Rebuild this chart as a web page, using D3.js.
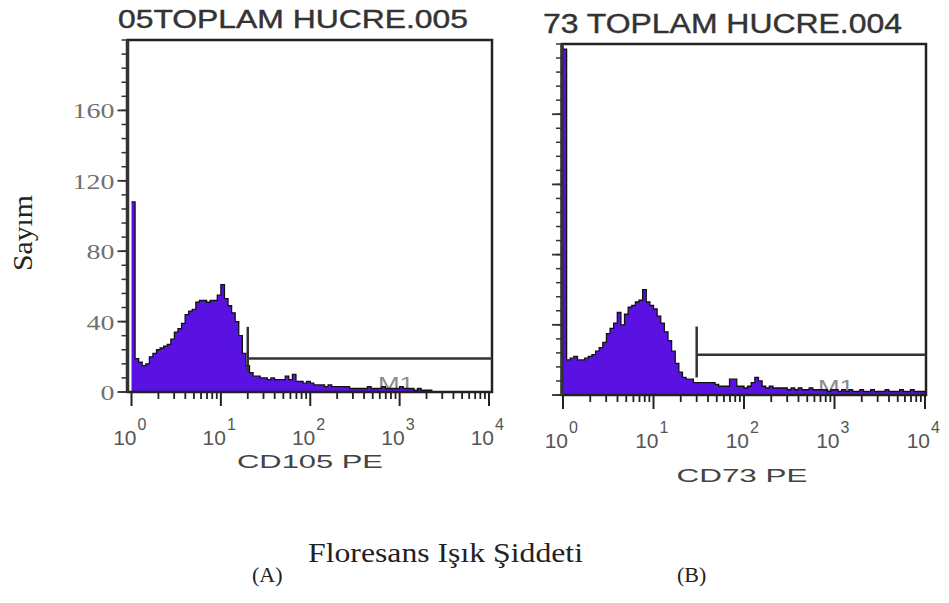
<!DOCTYPE html>
<html>
<head>
<meta charset="utf-8">
<script src="https://cdn.jsdelivr.net/npm/d3@7"></script>
<style>
  body { margin: 0; background: #fff; }
  svg { display: block; }
</style>
</head>
<body>
<svg></svg>
<script>
// ====== data ====== //
// histogram counts, 25 bins per decade, from 10^0 to 10^4
const countsA = [
  108, 19, 17, 15, 16, 20, 22, 24, 25, 26,
  27, 30, 34, 36, 39, 44, 46, 47, 51, 52,
  52, 51, 52, 52, 55, 61, 53, 49, 45, 40,
  32, 22, 15, 11, 9, 9, 8, 8, 7, 8,
  7, 7, 7, 9, 7, 10, 6, 6, 5, 6,
  5, 4, 4, 4, 3, 4, 3, 3, 3, 3,
  3, 2, 2, 2, 2, 2, 3, 2, 2, 2,
  3, 2, 2, 2, 2, 3, 2, 2, 2, 1,
  2, 1, 1, 1, 0, 0, 0, 0, 0, 0,
  0, 0, 0, 0, 0, 0, 0, 0, 0, 0
];
const countsB = [
  197, 20, 21, 22, 20, 20, 21, 22, 23, 25,
  27, 30, 35, 38, 41, 47, 40, 46, 50, 51,
  53, 54, 60, 53, 51, 49, 45, 41, 36, 31,
  25, 18, 13, 10, 9, 9, 7, 7, 7, 7,
  7, 7, 6, 5, 5, 5, 9, 9, 5, 5,
  4, 5, 7, 10, 8, 5, 4, 5, 4, 4,
  4, 4, 3, 4, 3, 4, 3, 3, 4, 3,
  3, 3, 3, 2, 3, 3, 2, 3, 2, 3,
  2, 2, 3, 2, 2, 3, 2, 2, 2, 3,
  2, 2, 2, 3, 2, 2, 3, 2, 2, 2
];
const titles = ["05TOPLAM HUCRE.005", "73 TOPLAM HUCRE.004"];
const axisNames = ["CD105 PE", "CD73 PE"];
const panelLetters = ["(A)", "(B)"];
const yMajorTicks = [0, 40, 80, 120, 160];
const decades = [0, 1, 2, 3, 4];
// M1 marker: start channel, bar level, vertical tick bottom/top (counts)
const gateStart = [20, 30];
const gateLevel = [19, 23];
const gateTick = [[11, 37], [10, 39]];

const binsPerDecade = 25;
const histColor = "#5a12e2";
const sans = "'Liberation Sans', Arial, sans-serif";
const serif = "'Liberation Serif', 'Times New Roman', serif";

const svg = d3.select("svg").attr("width", 949).attr("height", 603);

// layout of the two panels
const panels = [
  { counts: countsA, fl: 127.5, fr: 492, yt: 40, yb: 392, x0: 131.5, x1: 489,
    title: { x: 118, y: 28, len: 350, size: 25 }, name: { cx: 310, y: 468, len: 146 },
    letter: 252, m1: { x: 378, y: 390 }, yLabels: true, gate: 0 },
  { counts: countsB, fl: 562, fr: 926, yt: 44, yb: 395, x0: 563, x1: 925,
    title: { x: 543, y: 33, len: 359, size: 27 }, name: { cx: 742, y: 482, len: 131 },
    letter: 677, m1: { x: 818, y: 393 }, yLabels: false, gate: 1 }
];

panels.forEach((p, k) => {
  const g = svg.append("g");
  const x = d3.scaleLog().domain([1, 1e4]).range([p.x0, p.x1]);
  const y = d3.scaleLinear().domain([0, 200]).range([p.yb, p.yt]);

  // title (wide, stretched glyphs like the scan)
  g.append("text")
    .attr("x", p.title.x).attr("y", p.title.y)
    .attr("textLength", p.title.len).attr("lengthAdjust", "spacingAndGlyphs")
    .style("font-family", sans).style("font-size", p.title.size + "px")
    .attr("fill", "#333")
    .attr("stroke", "#333").attr("stroke-width", 0.4)
    .text(titles[k]);

  // M1 label (sits under the histogram)
  g.append("text")
    .attr("x", p.m1.x).attr("y", p.m1.y)
    .attr("textLength", 36).attr("lengthAdjust", "spacingAndGlyphs")
    .style("font-family", sans).style("font-size", "19px")
    .attr("fill", "#8a8a8a")
    .text("M1");

  // histogram
  const pts = p.counts.map((c, i) => [Math.pow(10, i / binsPerDecade), c]);
  pts.push([1e4, p.counts[p.counts.length - 1]]);
  const area = d3.area()
    .x(d => x(d[0])).y0(y(0)).y1(d => y(d[1]))
    .curve(d3.curveStepAfter);
  const line = d3.line()
    .x(d => x(d[0])).y(d => y(d[1]))
    .curve(d3.curveStepAfter);
  g.append("path").attr("d", area(pts)).attr("fill", histColor);
  g.append("path").attr("d", line(pts))
    .attr("fill", "none").attr("stroke", "#111").attr("stroke-width", 1.3);

  // frame
  g.append("rect")
    .attr("x", p.fl).attr("y", p.yt)
    .attr("width", p.fr - p.fl).attr("height", p.yb - p.yt)
    .attr("fill", "none").attr("stroke", "#222").attr("stroke-width", 2.5);
  g.append("line")
    .attr("x1", p.fl).attr("x2", p.fl).attr("y1", p.yt).attr("y2", p.yb)
    .attr("stroke", "#333").attr("stroke-width", 3.5);

  // M1 marker
  const gx = x(gateStart[p.gate]);
  g.append("line")
    .attr("x1", gx).attr("x2", p.fr)
    .attr("y1", y(gateLevel[p.gate])).attr("y2", y(gateLevel[p.gate]))
    .attr("stroke", "#333").attr("stroke-width", 2.5);
  g.append("line")
    .attr("x1", gx).attr("x2", gx)
    .attr("y1", y(gateTick[p.gate][0])).attr("y2", y(gateTick[p.gate][1]))
    .attr("stroke", "#333").attr("stroke-width", 2.5);

  // y ticks: minor every 8 counts, major every 40
  const yMinor = d3.range(0, 201, 8);
  g.selectAll(".ymin").data(yMinor).enter().append("line")
    .attr("x1", p.fl - 6).attr("x2", p.fl)
    .attr("y1", d => y(d)).attr("y2", d => y(d))
    .attr("stroke", "#333").attr("stroke-width", 1.5);
  g.selectAll(".ymaj").data(yMajorTicks).enter().append("line")
    .attr("x1", p.fl - 10).attr("x2", p.fl)
    .attr("y1", d => y(d)).attr("y2", d => y(d))
    .attr("stroke", "#333").attr("stroke-width", 1.8);
  if (p.yLabels) {
    g.selectAll(".ylab").data(yMajorTicks).enter().append("text")
      .attr("x", d => p.fl - 13 - 14 * String(d).length).attr("y", d => y(d) + 8)
      .attr("textLength", d => 14 * String(d).length)
      .attr("lengthAdjust", "spacingAndGlyphs")
      .style("font-family", serif).style("font-size", "22px")
      .attr("fill", "#707070")
      .text(d => d);
  }

  // x ticks: decades long, 2..9 short
  const xMinor = [];
  decades.slice(0, -1).forEach(d => {
    for (let m = 2; m <= 9; m++) xMinor.push(m * Math.pow(10, d));
  });
  g.selectAll(".xmin").data(xMinor).enter().append("line")
    .attr("x1", d => x(d)).attr("x2", d => x(d))
    .attr("y1", p.yb).attr("y2", p.yb + 7)
    .attr("stroke", "#222").attr("stroke-width", 1.8);
  g.selectAll(".xmaj").data(decades).enter().append("line")
    .attr("x1", d => x(Math.pow(10, d))).attr("x2", d => x(Math.pow(10, d)))
    .attr("y1", p.yb).attr("y2", p.yb + 14)
    .attr("stroke", "#222").attr("stroke-width", 2);

  g.selectAll(".xlab").data(decades).enter().append("text")
    .attr("x", d => x(Math.pow(10, d)) + 5).attr("y", p.yb + 53)
    .attr("text-anchor", "end")
    .style("font-family", sans).style("font-size", "21px")
    .attr("fill", "#555")
    .text("10");
  g.selectAll(".xexp").data(decades).enter().append("text")
    .attr("x", d => x(Math.pow(10, d)) + 6).attr("y", p.yb + 38)
    .style("font-family", sans).style("font-size", "16px")
    .attr("fill", "#555")
    .text(d => d);

  // channel name
  g.append("text")
    .attr("x", p.name.cx - p.name.len / 2).attr("y", p.name.y)
    .attr("textLength", p.name.len).attr("lengthAdjust", "spacingAndGlyphs")
    .style("font-family", sans).style("font-size", "19px")
    .attr("fill", "#444")
    .text(axisNames[k]);

  // (A) / (B)
  svg.append("text")
    .attr("x", p.letter).attr("y", 582)
    .style("font-family", serif).style("font-size", "22px")
    .attr("fill", "#222")
    .text(panelLetters[k]);
});

// shared axis titles
svg.append("text")
  .attr("transform", "translate(32,233) rotate(-90)")
  .attr("text-anchor", "middle")
  .attr("textLength", 76).attr("lengthAdjust", "spacingAndGlyphs")
  .style("font-family", serif).style("font-size", "28px")
  .attr("fill", "#222")
  .text("Sayım");

svg.append("text")
  .attr("x", 308).attr("y", 562)
  .attr("textLength", 275).attr("lengthAdjust", "spacingAndGlyphs")
  .style("font-family", serif).style("font-size", "27px")
  .attr("fill", "#222")
  .text("Floresans Işık Şiddeti");
</script>
</body>
</html>
